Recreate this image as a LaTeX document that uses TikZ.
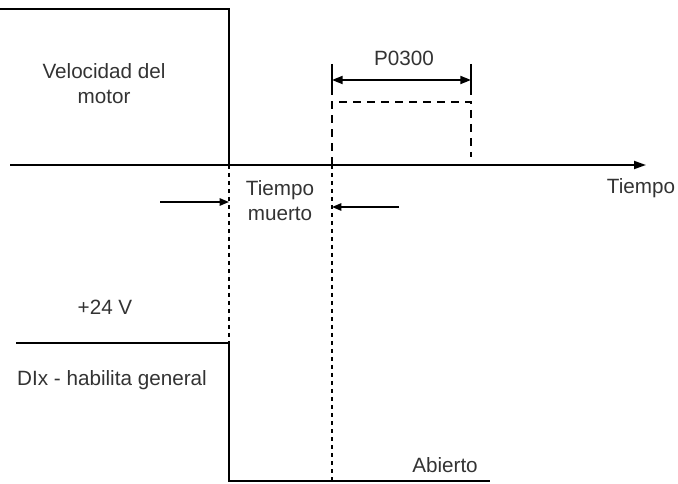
\documentclass[tikz,border=0pt]{standalone}
\usepackage{fontspec}
\setmainfont{Liberation Sans}
\usetikzlibrary{arrows.meta}
\definecolor{txt}{HTML}{333333}
\begin{document}
\begin{tikzpicture}[x=0.75pt,y=-0.75pt,
  sig/.style={line width=1.5pt,line join=miter},
  axisline/.style={line width=1.4pt,-{Triangle[length=9pt,width=6pt]}},
  dots/.style={line width=1.4pt,dash pattern=on 3pt off 3pt},
  dashbox/.style={line width=1.4pt,dash pattern=on 6pt off 4.5pt},
  dim/.style={line width=1.4pt,{Triangle[length=8pt,width=6pt]}-{Triangle[length=8pt,width=6pt]}},
  pointer/.style={line width=1.2pt,-{Triangle[length=7pt,width=5.5pt]}},
  lbl/.style={text=txt,font=\fontsize{15.5pt}{18.75pt}\selectfont,align=center,inner sep=0pt}]
\useasboundingbox (0,0) rectangle (678,484);
% coordinates
\coordinate (s0) at (0,9);
\coordinate (s1) at (229,9);
\coordinate (s2) at (229,165);
\coordinate (s3) at (470,165);
\coordinate (ax0) at (10,165);
\coordinate (ax1) at (646,165);
\coordinate (d0) at (16,343);
\coordinate (d1) at (229,343);
\coordinate (d2) at (229,481);
\coordinate (d3) at (490,481);
\coordinate (v1) at (332,481);
\coordinate (b1) at (332,102);
\coordinate (b2) at (471,102);
\coordinate (b3) at (471,157);
\coordinate (b0) at (332,165);
\coordinate (t1a) at (332,64);
\coordinate (t1b) at (332,95);
\coordinate (t2a) at (471,64);
\coordinate (t2b) at (471,95);
\coordinate (p1) at (332,80);
\coordinate (p2) at (471,80);
\coordinate (la0) at (160,202);
\coordinate (la1) at (229,202);
\coordinate (ra0) at (399,207);
\coordinate (ra1) at (332,207);
% axis
\draw[axisline] (ax0) -- (ax1);
% motor speed
\draw[sig] (s0) -- (s1) -- (s2);
\draw[line width=2.1pt] (s2) -- (s3);
% dashed box
\draw[dashbox] (b0) -- (b1) -- (b2) -- (b3);
% dimension
\draw[line width=1.4pt] (t1a) -- (t1b);
\draw[line width=1.4pt] (t2a) -- (t2b);
\draw[dim] (p1) -- (p2);
% dotted
\draw[dots] (s2) -- (d1);
\draw[dots] (b0) -- (v1);
% pointers
\draw[pointer] (la0) -- (la1);
\draw[pointer] (ra0) -- (ra1);
% DIx
\draw[sig] (d0) -- (d1) -- (d2) -- (d3);
% labels
\node[lbl] (vel) at (104,84) {Velocidad del\\motor};
\node[lbl] (p0300) at (404,58) {P0300};
\node[lbl] (tm) at (280,201) {Tiempo\\muerto};
\node[lbl] (tiempo) at (641,188) {Tiempo};
\node[lbl] (v24) at (105,307) {+24 V};
\node[lbl] (dix) at (112,380) {DIx - habilita general};
\node[lbl] (abierto) at (445,465) {Abierto};
\end{tikzpicture}
\end{document}
